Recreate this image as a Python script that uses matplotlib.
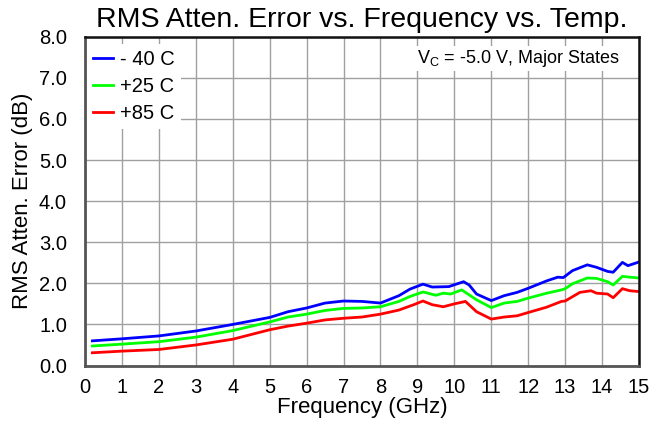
import matplotlib
matplotlib.use("Agg")
import matplotlib.pyplot as plt

plt.rcParams['font.family'] = ['Liberation Sans', 'DejaVu Sans']

# readings (GHz, dB)
freq_m40 = [0.2, 1, 2, 3, 4, 5, 5.5, 6, 6.5, 7, 7.5, 8, 8.5, 8.8, 9.15, 9.4, 9.85,
            10.25, 10.4, 10.6, 11.0, 11.35, 11.7, 12.0, 12.5, 12.8, 12.95, 13.2,
            13.6, 13.85, 14.15, 14.3, 14.55, 14.7, 15.0]
err_m40 = [0.60, 0.65, 0.72, 0.84, 1.00, 1.17, 1.31, 1.40, 1.52, 1.57, 1.56, 1.52,
           1.70, 1.86, 1.98, 1.91, 1.92, 2.04, 1.96, 1.74, 1.58, 1.70, 1.78, 1.88,
           2.06, 2.15, 2.14, 2.31, 2.45, 2.39, 2.29, 2.27, 2.51, 2.43, 2.52]

freq_p25 = [0.2, 1, 2, 3, 4, 5, 5.5, 6, 6.5, 7, 7.5, 8, 8.5, 8.8, 9.15, 9.5, 9.7,
            9.9, 10.2, 10.6, 11.0, 11.35, 11.7, 12.0, 12.5, 12.9, 13.0, 13.2, 13.6,
            13.85, 14.15, 14.3, 14.55, 14.75, 15.0]
err_p25 = [0.475, 0.52, 0.58, 0.69, 0.85, 1.06, 1.18, 1.25, 1.34, 1.39, 1.40, 1.43,
           1.56, 1.68, 1.79, 1.71, 1.76, 1.74, 1.84, 1.60, 1.41, 1.52, 1.56, 1.64,
           1.76, 1.84, 1.87, 1.99, 2.13, 2.12, 2.04, 1.96, 2.17, 2.15, 2.13]

freq_p85 = [0.2, 1, 2, 3, 4, 5, 5.5, 6, 6.5, 7, 7.5, 8, 8.5, 8.9, 9.15, 9.4, 9.7,
            10.0, 10.3, 10.6, 11.0, 11.35, 11.7, 12.0, 12.5, 12.9, 13.0, 13.4, 13.7,
            13.85, 14.15, 14.3, 14.55, 14.75, 15.0]
err_p85 = [0.31, 0.35, 0.39, 0.50, 0.64, 0.87, 0.96, 1.03, 1.11, 1.15, 1.18, 1.25,
           1.35, 1.48, 1.57, 1.48, 1.43, 1.50, 1.56, 1.31, 1.13, 1.18, 1.21, 1.29,
           1.42, 1.56, 1.57, 1.78, 1.82, 1.76, 1.74, 1.65, 1.87, 1.82, 1.80]

x_ticks = list(range(0, 16))
y_ticks = [0.0, 1.0, 2.0, 3.0, 4.0, 5.0, 6.0, 7.0, 8.0]

fig = plt.figure(figsize=(6.51, 4.28), dpi=100)
ax = fig.add_axes([0.1306, 0.146, 0.851, 0.768])

ax.plot(freq_m40, err_m40, color='#0000ff', lw=2.0, label='- 40 C')
ax.plot(freq_p25, err_p25, color='#00ff00', lw=2.0, label='+25 C')
ax.plot(freq_p85, err_p85, color='#ff0000', lw=2.0, label='+85 C')

ax.set_xlim(0, 15)
ax.set_ylim(0, 8)
ax.set_xticks(x_ticks)
ax.set_yticks(y_ticks)
ax.set_yticklabels([f"{v:.1f}" for v in y_ticks])
ax.tick_params(length=0, labelsize=14.5)
ax.tick_params(axis='x', pad=9)
ax.tick_params(axis='y', pad=13)
ax.grid(True, color='#a0a0a0', lw=1)
ax.set_axisbelow(True)

for side in ['top', 'right']:
    ax.spines[side].set_color('#111111')
    ax.spines[side].set_linewidth(1.8)
for side in ['left', 'bottom']:
    ax.spines[side].set_color('#555555')
    ax.spines[side].set_linewidth(2)

ax.set_title("RMS Atten. Error vs. Frequency vs. Temp.", fontsize=20.5, pad=7)
ax.set_xlabel("Frequency (GHz)", fontsize=16, labelpad=0)
ax.set_ylabel("RMS Atten. Error (dB)", fontsize=16, labelpad=4)

leg = ax.legend(loc='upper left', bbox_to_anchor=(0, 0.985), frameon=True,
                fontsize=14.5, handlelength=1.0, handletextpad=0.35,
                labelspacing=0.4, borderaxespad=0.1, borderpad=0.3)
leg.get_frame().set_edgecolor('none')
leg.get_frame().set_facecolor('white')
leg.get_frame().set_alpha(1)

ax.text(0.966, 0.966, r"V$_\mathregular{C}$ = -5.0 V, Major States",
        transform=ax.transAxes, ha='right', va='top', fontsize=13,
        bbox=dict(facecolor='white', edgecolor='none', pad=1.5))

fig.savefig("out.png", dpi=100)
